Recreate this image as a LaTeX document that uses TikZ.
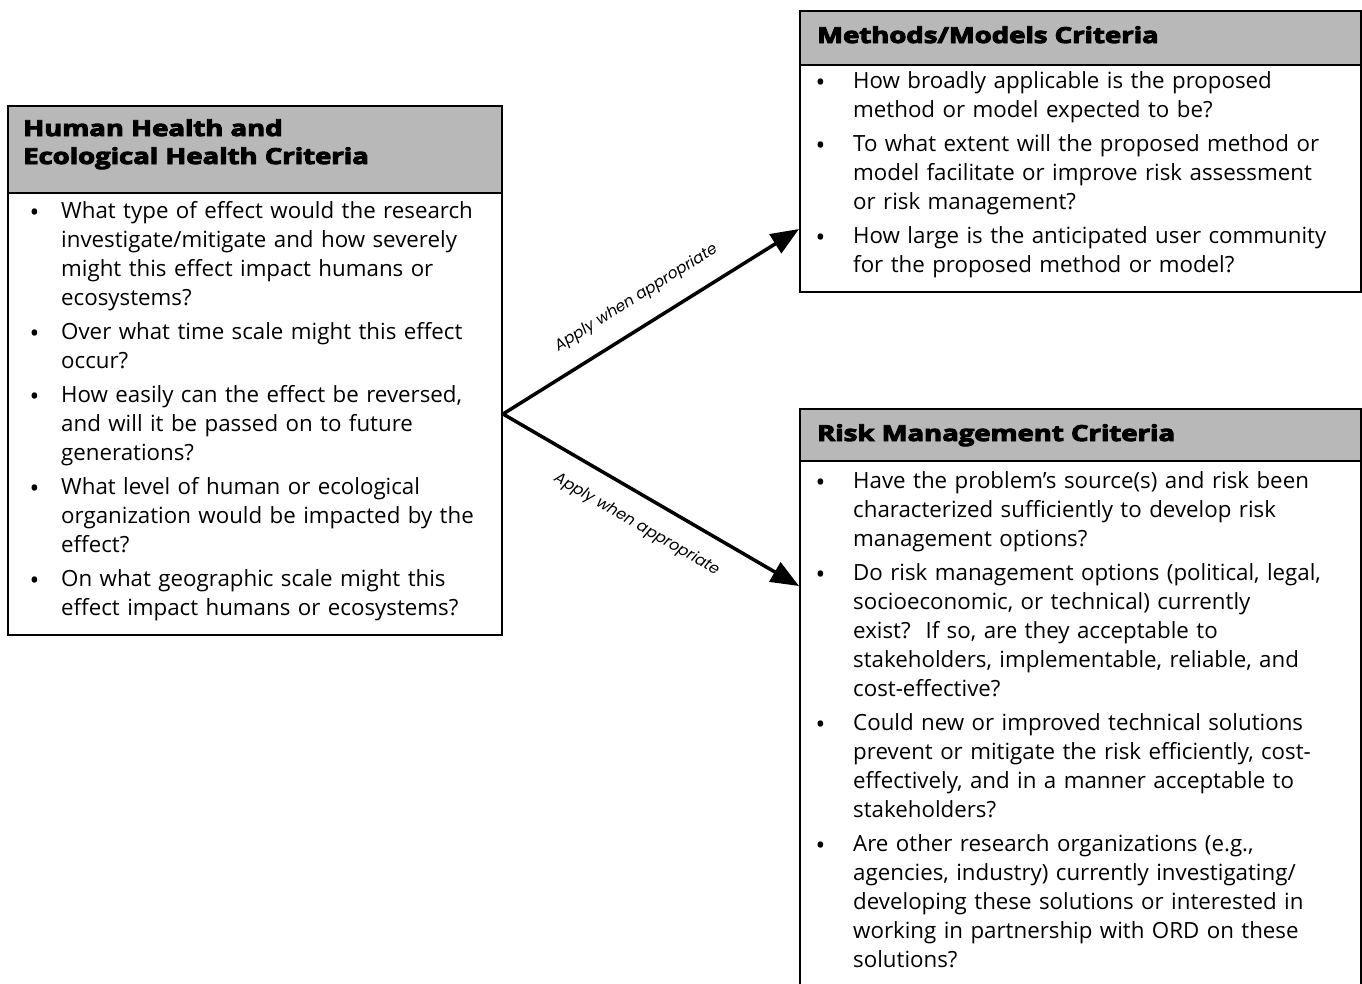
\documentclass[tikz,border=0pt]{standalone}
\usepackage{fontspec}
\usepackage{graphicx}
\setmainfont{Open Sans}
\newfontfamily\hdrfont[FakeBold=4]{Open Sans Bold}
\newfontfamily\lblfont{Poppins}
\usetikzlibrary{arrows.meta}
\newlength{\hangw}
\tikzset{
  boxframe/.style={draw=black, line width=2pt, inner sep=0pt, anchor=north west},
  hdrfill/.style={draw=black, line width=2pt, fill=black!28, inner sep=0pt, anchor=north west},
  hdrtext/.style={inner sep=0pt, anchor=base west, font=\hdrfont\fontsize{22}{28}\selectfont, align=left},
  bodytext/.style={inner sep=0pt, anchor=north west, font=\fontsize{22.3}{29}\selectfont},
  arr/.style={line width=3.5pt, -{Triangle[length=28pt,width=22pt]}},
  lbl/.style={font=\lblfont\itshape\fontsize{15.5}{17}\selectfont, sloped, inner sep=2pt}
}
\newcommand{\hx}[1]{\scalebox{1.25}[1]{#1}}
\newcommand{\itm}[1]{\noindent\hangindent=\hangw\hangafter=1\makebox[\hangw][l]{\strut\raisebox{-3.5pt}{\fontsize{26}{26}\selectfont\textbullet}}#1\par}
\newcommand{\gap}{\vspace{5pt}}
\begin{document}
\begin{tikzpicture}[x=1pt,y=-1pt]
\useasboundingbox (0,0) rectangle (1362,983);
\clip (0,0) rectangle (1362,983);
% left box
\node[boxframe, minimum width=494pt, minimum height=529pt] (lbox) at (7,105) {};
\node[hdrfill, minimum width=494pt, minimum height=87pt] (lhdr) at (7,105) {};
\node[hdrtext] (lhdrt) at (23,164) {\hx{Human Health and}\\\hx{Ecological Health Criteria}};
\node[bodytext, text width=468pt] (lbody) at (29.5,197.7) {\setlength{\hangw}{31.5pt}%
\itm{What type of effect would the research\newline investigate/mitigate and how severely\newline might this effect impact humans or\newline ecosystems?}\gap
\itm{Over what time scale might this effect\newline occur?}\gap
\itm{How easily can the effect be reversed,\newline and will it be passed on to future\newline generations?}\gap
\itm{What level of human or ecological\newline organization would be impacted by the\newline effect?}\gap
\itm{On what geographic scale might this\newline effect impact humans or ecosystems?}};
% methods box
\node[boxframe, minimum width=561pt, minimum height=281pt] (mbox) at (799,10) {};
\node[hdrfill, minimum width=561pt, minimum height=54pt] (mhdr) at (799,10) {};
\node[hdrtext] (mhdrt) at (817,43) {\hx{Methods/Models Criteria}};
\node[bodytext, text width=540pt] (mbody) at (815.5,67.7) {\setlength{\hangw}{37.5pt}%
\itm{How broadly applicable is the proposed\newline method or model expected to be?}\gap
\itm{To what extent will the proposed method or\newline model facilitate or improve risk assessment\newline or risk management?}\gap
\itm{How large is the anticipated user community\newline for the proposed method or model?}};
% risk box
\node[boxframe, minimum width=561pt, minimum height=620pt] (rbox) at (799,408) {};
\node[hdrfill, minimum width=561pt, minimum height=52pt] (rhdr) at (799,408) {};
\node[hdrtext] (rhdrt) at (817,441) {\hx{Risk Management Criteria}};
\node[bodytext, text width=540pt] (rbody) at (815.5,467.7) {\setlength{\hangw}{37.5pt}%
\itm{Have the problem's source(s) and risk been\newline characterized sufficiently to develop risk\newline management options?}\gap
\itm{Do risk management options (political, legal,\newline socioeconomic, or technical) currently\newline exist?\ \ If so, are they acceptable to\newline stakeholders, implementable, reliable, and\newline cost-effective?}\gap
\itm{Could new or improved technical solutions\newline prevent or mitigate the risk efficiently, cost-\newline effectively, and in a manner acceptable to\newline stakeholders?}\gap
\itm{Are other research organizations (e.g.,\newline agencies, industry) currently investigating/\newline developing these solutions or interested in\newline working in partnership with ORD on these\newline solutions?}};
% arrows
\coordinate (src) at ([yshift=-43.5pt]lbox.east);
\draw[arr] (src) -- node[lbl, above=16pt, pos=0.5] (l1) {Apply when appropriate} ([yshift=-77.5pt]mbox.west);
\draw[arr] (src) -- node[lbl, below=17pt, pos=0.5] (l2) {Apply when appropriate} ([yshift=133pt]rbox.west);
\end{tikzpicture}
\end{document}
